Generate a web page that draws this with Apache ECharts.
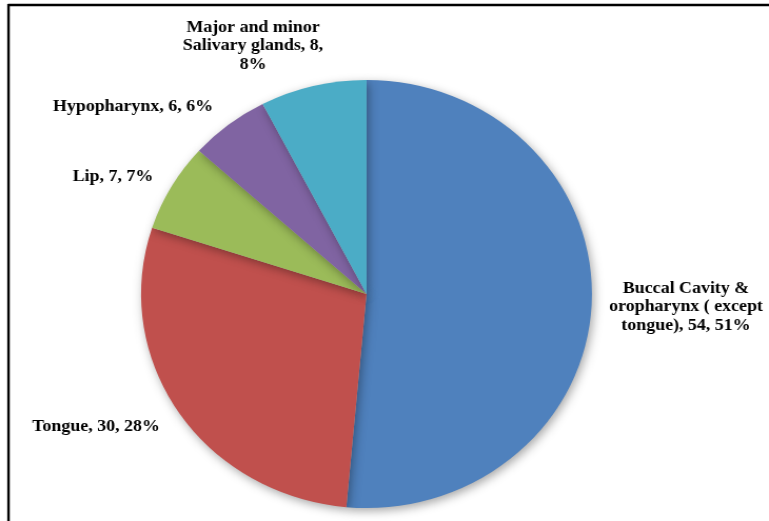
<!DOCTYPE html>
<html>
<head>
<meta charset="utf-8">
<script src="https://cdn.jsdelivr.net/npm/echarts@6/dist/echarts.min.js"></script>
<style>
html,body{margin:0;padding:0;background:#fff;overflow:hidden;}
#chart{width:730px;height:521px;transform:scaleX(1.0534);transform-origin:0 0;}
</style>
</head>
<body>
<div id="chart"></div>
<script>
const categories = [
  'Buccal Cavity & oropharynx ( except tongue)',
  'Tongue',
  'Lip',
  'Hypopharynx',
  'Major and minor Salivary glands'
];
const values = [54, 30, 7, 6, 8];
const colors = ['#4F81BD', '#C0504D', '#9BBB59', '#8064A2', '#4BACC6'];
// label text with line breaks as in the reference
const labelTexts = [
  (c, d) => 'Buccal Cavity &\noropharynx ( except\ntongue), ' + c + ', ' + d + '%',
  (c, d) => 'Tongue, ' + c + ', ' + d + '%',
  (c, d) => 'Lip, ' + c + ', ' + d + '%',
  (c, d) => 'Hypopharynx, ' + c + ', ' + d + '%',
  (c, d) => 'Major and minor\nSalivary glands, ' + c + ',\n' + d + '%'
];
// horizontal stretch of the reference picture
const SX = 1.0534;
// label centre positions (px, in the page)
const labelCenters = [[686, 307], [96, 427], [113, 177], [133, 107], [253, 46]];

const chart = echarts.init(document.getElementById('chart'), null, {renderer: 'canvas'});
chart.setOption({
  animation: false,
  backgroundColor: '#ffffff',
  graphic: [
    {type: 'line', shape: {x1: 8 / SX, y1: 5, x2: 730, y2: 5}, style: {stroke: '#000', lineWidth: 2.5}},
    {type: 'line', shape: {x1: 8.5 / SX, y1: 4, x2: 8.5 / SX, y2: 521}, style: {stroke: '#000', lineWidth: 2.4}}
  ],
  series: [{
    type: 'pie',
    center: [366.5 / SX, 294],
    radius: ['0%', 214],
    startAngle: 90,
    clockwise: true,
    avoidLabelOverlap: false,
    percentPrecision: 0,
    itemStyle: {
      shadowBlur: 10,
      shadowColor: 'rgba(0,0,0,0.35)',
      shadowOffsetX: 2,
      shadowOffsetY: 3
    },
    label: {
      show: true,
      position: 'outside',
      fontFamily: '"Liberation Serif", "Times New Roman", serif',
      fontWeight: 'bold',
      fontSize: 17,
      lineHeight: 18.5,
      color: '#000',
      align: 'center',
      formatter: p => labelTexts[p.dataIndex](p.value, p.percent)
    },
    labelLine: {show: false},
    labelLayout: p => ({
      x: labelCenters[p.dataIndex][0] / SX,
      y: labelCenters[p.dataIndex][1],
      align: 'center',
      verticalAlign: 'middle'
    }),
    data: categories.map((n, i) => ({name: n, value: values[i], itemStyle: {color: colors[i]}}))
  }]
});
</script>
</body>
</html>
